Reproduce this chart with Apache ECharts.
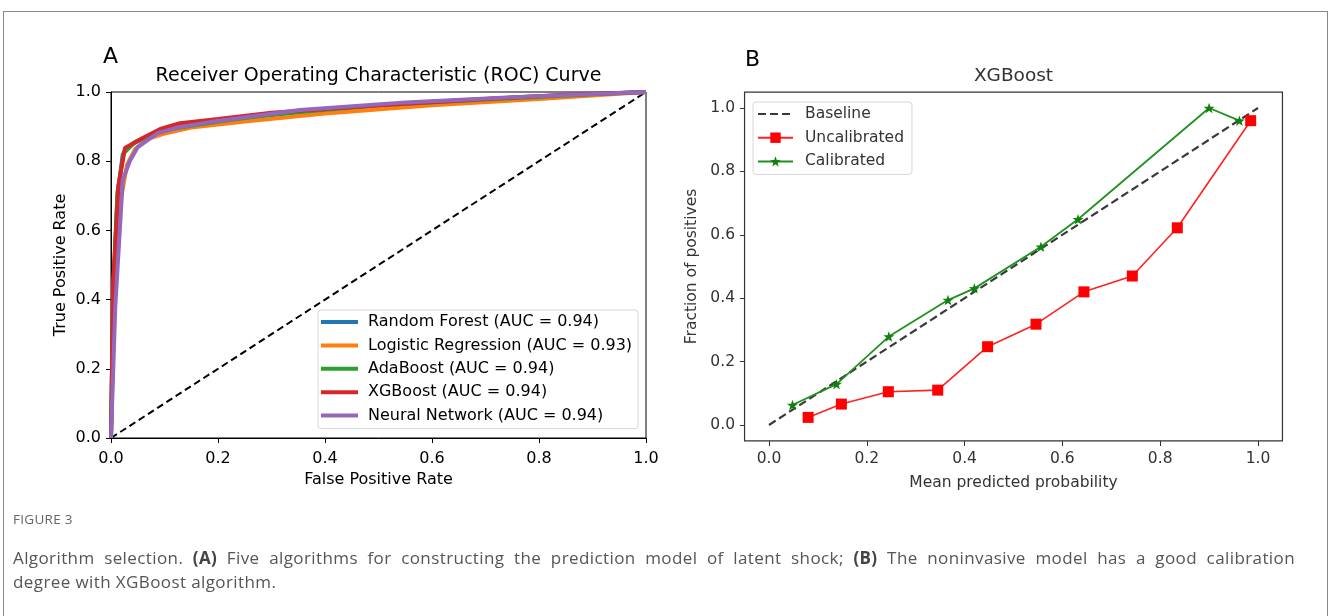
<!DOCTYPE html>
<html>
<head>
<meta charset="utf-8">
<script src="https://cdn.jsdelivr.net/npm/echarts@6/dist/echarts.min.js"></script>
<style>
html, body { margin: 0; padding: 0; background: #fff; }
#wrap { position: relative; width: 1330px; height: 616px; overflow: hidden; }
#frame { position: absolute; left: 3px; top: 11px; width: 1325px; height: 700px; border: 1px solid #888; box-sizing: border-box; }
#chart { position: absolute; left: 0; top: 0; width: 1330px; height: 616px; }
#fig { position: absolute; left: 13px; top: 510px; font: 13.5px "Open Sans"; color: #666; letter-spacing: 0.3px; }
#cap { position: absolute; left: 13px; top: 546px; width: 1282px; font: 17px/24px "Open Sans"; color: #555; letter-spacing: 0.4px; }
#cap .l1 { text-align: justify; text-align-last: justify; }
#cap b { color: #444; }
</style>
</head>
<body>
<div id="wrap">
  <div id="frame"></div>
  <div id="chart"></div>
  <div id="fig">FIGURE 3</div>
  <div id="cap">
    <div class="l1">Algorithm selection. <b>(A)</b> Five algorithms for constructing the prediction model of latent shock; <b>(B)</b> The noninvasive model has a good calibration</div>
    <div>degree with XGBoost algorithm.</div>
  </div>
</div>
<script>
// panel A - ROC curves, [fpr, tpr]
var rocNames = ["Random Forest (AUC = 0.94)", "Logistic Regression (AUC = 0.93)", "AdaBoost (AUC = 0.94)", "XGBoost (AUC = 0.94)", "Neural Network (AUC = 0.94)"];
var rocColors = ["#1f77b4", "#ff7f0e", "#2ca02c", "#d62728", "#9467bd"];
var rfRoc = [[0,0],[0.004,0.40],[0.012,0.70],[0.022,0.82],[0.04,0.85],[0.07,0.872],[0.1,0.887],[0.15,0.90],[0.25,0.925],[0.4,0.95],[0.6,0.972],[0.8,0.988],[1,1]];
var lrRoc = [[0,0],[0.006,0.38],[0.015,0.66],[0.03,0.79],[0.045,0.835],[0.07,0.865],[0.1,0.88],[0.15,0.897],[0.25,0.915],[0.4,0.938],[0.6,0.962],[0.8,0.98],[1,1]];
var adaRoc = [[0,0],[0.004,0.42],[0.012,0.71],[0.024,0.825],[0.045,0.855],[0.08,0.88],[0.12,0.895],[0.2,0.915],[0.3,0.935],[0.5,0.962],[0.7,0.978],[0.85,0.99],[1,1]];
var xgbRoc = [[0,0],[0.004,0.45],[0.014,0.73],[0.026,0.838],[0.06,0.868],[0.092,0.893],[0.129,0.91],[0.2,0.922],[0.3,0.94],[0.5,0.962],[0.7,0.98],[0.85,0.992],[1,1]];
var nnRoc = [[0,0],[0.008,0.38],[0.022,0.746],[0.035,0.80],[0.05,0.841],[0.088,0.882],[0.129,0.899],[0.185,0.913],[0.353,0.948],[0.55,0.97],[0.75,0.985],[1,1]];
var chanceLine = [[0,0],[1,1]];

// panel B - calibration curve
var baseline = [[0,0],[1,1]];
var uncalProb = [0.080, 0.148, 0.244, 0.345, 0.447, 0.546, 0.644, 0.743, 0.835, 0.985];
var uncalFrac = [0.024, 0.066, 0.105, 0.110, 0.247, 0.318, 0.420, 0.470, 0.622, 0.960];
var calProb = [0.048, 0.138, 0.245, 0.366, 0.420, 0.556, 0.632, 0.900, 0.962];
var calFrac = [0.063, 0.129, 0.279, 0.394, 0.431, 0.562, 0.649, 1.000, 0.960];
var tickLabels = ["0.0", "0.2", "0.4", "0.6", "0.8", "1.0"];

var FONT = "DejaVu Sans";
var star = "path://M0,-50 L11.8,-16.2 L47.6,-15.5 L19,6.2 L29.4,40.5 L0,20 L-29.4,40.5 L-19,6.2 L-47.6,-15.5 L-11.8,-16.2 Z";

function zip(xs, ys) {
  return xs.map(function (x, i) { return [x, ys[i]]; });
}
function fmt(v) {
  return tickLabels[Math.round(v * 5)];
}

var chart = echarts.init(document.getElementById("chart"));

function axisA(name, gap, margin) {
  return {
    gridIndex: 0, type: "value", min: 0, max: 1, interval: 0.2,
    axisLine: { onZero: false, lineStyle: { color: "#000", width: 1 } },
    axisTick: { inside: false, length: 5, lineStyle: { color: "#000" } },
    axisLabel: { formatter: fmt, fontSize: 16, fontFamily: FONT, color: "#000", margin: margin },
    splitLine: { show: false },
    name: name, nameLocation: "middle", nameGap: gap,
    nameTextStyle: { fontSize: 16, fontFamily: FONT, color: "#000" }
  };
}
function axisB(name, gap, off) {
  return {
    gridIndex: 1, type: "value", min: 0, max: 1, interval: 0.2, offset: off,
    axisLine: { show: false, onZero: false },
    axisTick: { show: true, inside: false, length: 5, lineStyle: { color: "#333" } },
    axisLabel: { formatter: fmt, fontSize: 15.5, fontFamily: FONT, color: "#333", margin: 10 },
    splitLine: { show: false },
    name: name, nameLocation: "middle", nameGap: gap,
    nameTextStyle: { fontSize: 15.5, fontFamily: FONT, color: "#333" }
  };
}

var rocSeries = [rfRoc, lrRoc, adaRoc, xgbRoc, nnRoc].map(function (d, i) {
  return {
    name: rocNames[i], type: "line", xAxisIndex: 0, yAxisIndex: 0,
    data: d, showSymbol: false, symbol: "none", color: rocColors[i],
    lineStyle: { width: 4, color: rocColors[i] }, z: 3 + i
  };
});

chart.setOption({
  animation: false,
  grid: [
    { left: 111, top: 92, width: 535, height: 346, show: true, borderColor: "#000", borderWidth: 1 },
    { left: 769, top: 108, width: 489, height: 317 }
  ],
  xAxis: [axisA("False Positive Rate", 33, 13), axisB("Mean predicted probability", 34, 16)],
  yAxis: [axisA("True Positive Rate", 42, 10), axisB("Fraction of positives", 45, 24)],
  legend: [
    {
      data: rocNames, orient: "vertical", left: 318, top: 310,
      icon: "rect", itemWidth: 37, itemHeight: 4, itemGap: 5.4,
      padding: [3, 6, 4, 3], backgroundColor: "#fff",
      borderColor: "#d6d6d6", borderWidth: 1, borderRadius: 3,
      textStyle: { fontSize: 16, fontFamily: FONT, color: "#000", lineHeight: 18, padding: [0, 0, 0, 5] }
    },
    {
      data: [
        { name: "Baseline", itemStyle: { color: "rgba(0,0,0,0)", borderColor: "rgba(0,0,0,0)", borderWidth: 0 } },
        "Uncalibrated", "Calibrated"
      ],
      orient: "vertical", left: 753, top: 102,
      itemWidth: 35, itemHeight: 13, itemGap: 5.7,
      padding: [3, 8, 4, 4], backgroundColor: "#fff",
      borderColor: "#d6d6d6", borderWidth: 1, borderRadius: 3,
      textStyle: { fontSize: 15.5, fontFamily: FONT, color: "#333", lineHeight: 18, padding: [0, 0, 0, 7] }
    }
  ],
  series: rocSeries.concat([
    {
      name: "chance", type: "line", xAxisIndex: 0, yAxisIndex: 0, data: chanceLine,
      symbol: "none", lineStyle: { color: "#000", width: 2, type: [7, 4] }, z: 2
    },
    {
      name: "Baseline", type: "line", xAxisIndex: 1, yAxisIndex: 1, data: baseline,
      symbol: "none", color: "#3a3a3a", lineStyle: { color: "#3a3a3a", width: 2.2, type: [8, 4] }, z: 2
    },
    {
      name: "Uncalibrated", type: "line", xAxisIndex: 1, yAxisIndex: 1, data: zip(uncalProb, uncalFrac),
      symbol: "rect", symbolSize: 11, color: "#ff0000", clip: false,
      lineStyle: { color: "#ff2020", width: 1.6 }, itemStyle: { color: "#ff0000" }, z: 3
    },
    {
      name: "Calibrated", type: "line", xAxisIndex: 1, yAxisIndex: 1, data: zip(calProb, calFrac),
      symbol: star, symbolSize: 11, symbolKeepAspect: true, color: "#108010", clip: false,
      lineStyle: { color: "#209020", width: 1.8 }, itemStyle: { color: "#108010" }, z: 4
    }
  ])
});

// spines of panel B sit at the 5% padded data limits
var tl = chart.convertToPixel({ xAxisIndex: 1, yAxisIndex: 1 }, [-0.05, 1.05]);
var br = chart.convertToPixel({ xAxisIndex: 1, yAxisIndex: 1 }, [1.05, -0.05]);

chart.setOption({
  graphic: [
    { type: "rect", shape: { x: tl[0], y: tl[1], width: br[0] - tl[0], height: br[1] - tl[1] },
      style: { fill: null, stroke: "#333", lineWidth: 1.2 }, z: 1 },
    { type: "text", x: 103, y: 57, style: { text: "A", font: "22px DejaVu Sans", fill: "#000", verticalAlign: "middle" } },
    { type: "text", x: 745, y: 60, style: { text: "B", font: "22px DejaVu Sans", fill: "#000", verticalAlign: "middle" } },
    { type: "text", x: 378.5, y: 76, style: { text: "Receiver Operating Characteristic (ROC) Curve", font: "19px DejaVu Sans", fill: "#000", align: "center", verticalAlign: "middle" } },
    { type: "text", x: (tl[0] + br[0]) / 2, y: 76, style: { text: "XGBoost", font: "18.5px DejaVu Sans", fill: "#333", align: "center", verticalAlign: "middle" } }
  ]
});
</script>
</body>
</html>
